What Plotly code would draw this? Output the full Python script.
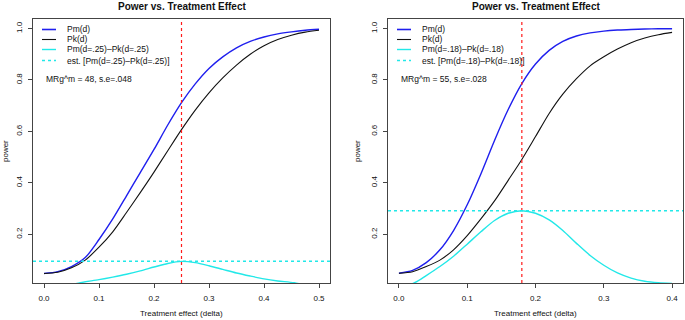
import plotly.graph_objects as go

# ---------------- data ----------------
# Left panel
delta_left = [0.0, 0.025, 0.05, 0.075, 0.1, 0.125, 0.15, 0.175, 0.2, 0.225, 0.25,
              0.275, 0.3, 0.325, 0.35, 0.375, 0.4, 0.425, 0.45, 0.475, 0.5]
pm_left = [0.048, 0.055, 0.075, 0.11, 0.18, 0.26, 0.35, 0.44, 0.53, 0.625, 0.712,
           0.785, 0.845, 0.89, 0.925, 0.95, 0.967, 0.979, 0.987, 0.993, 0.997]
pk_left = [0.048, 0.053, 0.07, 0.10, 0.15, 0.21, 0.285, 0.362, 0.442, 0.525, 0.607,
           0.683, 0.75, 0.808, 0.858, 0.90, 0.933, 0.957, 0.974, 0.986, 0.993]
delta_diff_left = [0.04, 0.066, 0.1, 0.125, 0.15, 0.175, 0.2, 0.225, 0.25, 0.275,
                   0.3, 0.325, 0.35, 0.375, 0.4, 0.425, 0.455, 0.48]
diff_left = [0.0, 0.012, 0.024, 0.034, 0.045, 0.058, 0.073, 0.087, 0.095, 0.090,
             0.078, 0.064, 0.050, 0.038, 0.027, 0.019, 0.012, 0.0]
d_star_left = 0.25
est_left = 0.096
label_left = "MRg^m = 48, s.e=.048"
legend_left = ["Pm(d)", "Pk(d)", "Pm(d=.25)\u2013Pk(d=.25)", "est. [Pm(d=.25)\u2013Pk(d=.25)]"]
xticks_left = [0.0, 0.1, 0.2, 0.3, 0.4, 0.5]

# Right panel
delta_right = [0.0, 0.02, 0.04, 0.06, 0.08, 0.1, 0.12, 0.14, 0.16, 0.18, 0.2,
               0.22, 0.24, 0.26, 0.28, 0.3, 0.32, 0.34, 0.36, 0.38, 0.4]
pm_right = [0.049, 0.06, 0.09, 0.14, 0.215, 0.315, 0.435, 0.565, 0.685, 0.786, 0.862,
            0.915, 0.95, 0.971, 0.983, 0.99, 0.994, 0.996, 0.998, 0.999, 0.999]
pk_right = [0.049, 0.055, 0.075, 0.10, 0.14, 0.195, 0.26, 0.33, 0.41, 0.491, 0.58,
            0.67, 0.745, 0.805, 0.855, 0.89, 0.92, 0.945, 0.963, 0.976, 0.985]
delta_diff_right = [0.0, 0.023, 0.04, 0.06, 0.08, 0.1, 0.12, 0.14, 0.16, 0.18, 0.2,
                    0.22, 0.24, 0.26, 0.28, 0.3, 0.32, 0.34, 0.36, 0.38, 0.4]
diff_right = [-0.01, 0.012, 0.04, 0.075, 0.115, 0.162, 0.21, 0.254, 0.282, 0.292, 0.282,
              0.256, 0.215, 0.165, 0.118, 0.08, 0.05, 0.03, 0.018, 0.012, 0.009]
d_star_right = 0.18
est_right = 0.292
label_right = "MRg^m = 55, s.e=.028"
legend_right = ["Pm(d)", "Pk(d)", "Pm(d=.18)\u2013Pk(d=.18)", "est. [Pm(d=.18)\u2013Pk(d=.18)]"]
xticks_right = [0.0, 0.1, 0.2, 0.3, 0.4]

yticks = [0.2, 0.4, 0.6, 0.8, 1.0]
title_text = "Power vs. Treatment Effect"
x_title = "Treatment effect (delta)"
y_title = "power"

# ---------------- styling ----------------
W, H = 685, 320
FONT = "Liberation Sans, Arial, Helvetica, sans-serif"
BLUE = "#1f1fee"
BLACK = "#111111"
CYAN = "#22e8e8"
RED = "#ff1a1a"

panels = [
    dict(dom=(33, 330), xr=(-0.02, 0.52), d=delta_left, pm=pm_left, pk=pk_left,
         dd=delta_diff_left, diff=diff_left, ds=d_star_left, est=est_left,
         lab=label_left, leg=legend_left, xt=xticks_left, xa="x", ya="y"),
    dict(dom=(388, 683), xr=(-0.016, 0.416), d=delta_right, pm=pm_right, pk=pk_right,
         dd=delta_diff_right, diff=diff_right, ds=d_star_right, est=est_right,
         lab=label_right, leg=legend_right, xt=xticks_right, xa="x2", ya="y2"),
]

y_top_px, y_bot_px = 19, 283
ydom = ((H - y_bot_px) / H, (H - y_top_px) / H)
yr = (0.011, 1.037)

fig = go.Figure()
shapes = []
annotations = []

def px_x(p):
    return p / W

def px_y(p):
    return (H - p) / H

for i, p in enumerate(panels):
    xa, ya = p["xa"], p["ya"]
    fig.add_trace(go.Scatter(x=p["d"], y=p["pm"], mode="lines",
                             line=dict(color=BLUE, width=1.4, shape="spline", smoothing=0.8),
                             xaxis=xa, yaxis=ya, showlegend=False))
    fig.add_trace(go.Scatter(x=p["d"], y=p["pk"], mode="lines",
                             line=dict(color=BLACK, width=1.1, shape="spline", smoothing=0.8),
                             xaxis=xa, yaxis=ya, showlegend=False))
    fig.add_trace(go.Scatter(x=p["dd"], y=p["diff"], mode="lines",
                             line=dict(color=CYAN, width=1.4, shape="spline", smoothing=0.8),
                             xaxis=xa, yaxis=ya, showlegend=False))
    # vertical dashed red line at d*
    fig.add_trace(go.Scatter(x=[p["ds"], p["ds"]], y=[yr[0], yr[1]], mode="lines",
                             line=dict(color=RED, width=1.2, dash="3px,3px"),
                             xaxis=xa, yaxis=ya, showlegend=False))
    # horizontal dashed cyan line at estimate
    fig.add_trace(go.Scatter(x=[p["xr"][0], p["xr"][1]], y=[p["est"], p["est"]], mode="lines",
                             line=dict(color=CYAN, width=1.5, dash="3px,3px"),
                             xaxis=xa, yaxis=ya, showlegend=False))

    x0, x1 = p["dom"]
    axn = "xaxis" if i == 0 else "xaxis2"
    ayn = "yaxis" if i == 0 else "yaxis2"
    fig.update_layout(**{
        axn: dict(domain=[x0 / W, x1 / W], range=list(p["xr"]), anchor=ya,
                  tickvals=p["xt"], tickformat=".1f", ticks="outside", ticklen=4,
                  tickwidth=1, tickcolor="#444", showline=True, linecolor="#444",
                  linewidth=1, mirror=True, showgrid=False, zeroline=False,
                  ticklabelstandoff=3,
                  tickfont=dict(family=FONT, size=8, color="#111")),
        ayn: dict(domain=list(ydom), range=list(yr), anchor=xa,
                  tickvals=yticks, tickformat=".1f", ticks="outside", ticklen=4,
                  tickwidth=1, tickcolor="#444", showline=True, linecolor="#444",
                  linewidth=1, mirror=True, showgrid=False, zeroline=False,
                  tickangle=-90, ticklabelstandoff=3,
                  tickfont=dict(family=FONT, size=8, color="#111")),
    })

    cx = (x0 + x1) / 2
    annotations.append(dict(text="<b>" + title_text + "</b>", x=px_x(cx), y=px_y(6),
                            xref="paper", yref="paper", showarrow=False,
                            xanchor="center", yanchor="middle",
                            font=dict(family=FONT, size=10, color="#111")))
    annotations.append(dict(text=x_title, x=px_x(cx), y=px_y(313),
                            xref="paper", yref="paper", showarrow=False,
                            xanchor="center", yanchor="middle",
                            font=dict(family=FONT, size=8, color="#111")))
    annotations.append(dict(text=y_title, x=px_x(max(x0 - 31, 5)), y=px_y(151),
                            xref="paper", yref="paper", showarrow=False, textangle=-90,
                            xanchor="center", yanchor="middle",
                            font=dict(family=FONT, size=8, color="#111")))
    # legend (drawn manually to match compact R legend)
    rows = [29.5, 39.5, 49.5, 60.5]
    styles = [(BLUE, 1.6, "solid"), (BLACK, 1.1, "solid"), (CYAN, 1.4, "solid"), (CYAN, 1.4, "dash")]
    for r, (c, w, dsh), txt in zip(rows, styles, p["leg"]):
        shapes.append(dict(type="line", xref="paper", yref="paper",
                           x0=px_x(x0 + 9), x1=px_x(x0 + 23), y0=px_y(r), y1=px_y(r),
                           line=dict(color=c, width=w, dash="3px,3px" if dsh == "dash" else "solid")))
        annotations.append(dict(text=txt, x=px_x(x0 + 32), y=px_y(r), xref="paper", yref="paper",
                                showarrow=False, xanchor="left", yanchor="middle",
                                font=dict(family=FONT, size=8.5, color="#111")))
    annotations.append(dict(text=p["lab"], x=px_x(x0 + 11), y=px_y(78.5), xref="paper", yref="paper",
                            showarrow=False, xanchor="left", yanchor="middle",
                            font=dict(family=FONT, size=8.5, color="#111")))

fig.update_layout(width=W, height=H, margin=dict(l=0, r=0, t=0, b=0),
                  plot_bgcolor="white", paper_bgcolor="white",
                  shapes=shapes, annotations=annotations, showlegend=False)

fig.write_html("out.html", config={"displayModeBar": False},
               post_script="document.body.style.margin='0';document.body.style.overflow='hidden';")
